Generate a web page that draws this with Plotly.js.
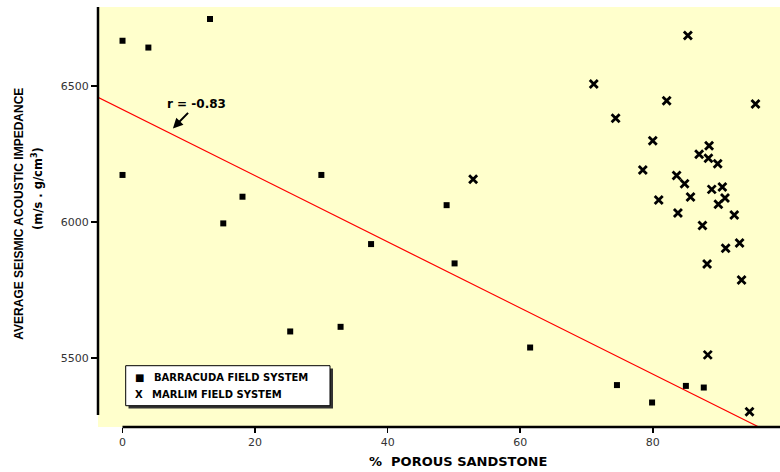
<!DOCTYPE html>
<html>
<head>
<meta charset="utf-8">
<script src="https://cdn.plot.ly/plotly-3.0.1.min.js"></script>
<style>html,body{margin:0;padding:0;background:#fff;}#chart{width:780px;height:472px;}</style>
</head>
<body>
<div id="chart"></div>
<script>
// ---- data ----
const seriesNames = ["BARRACUDA FIELD SYSTEM", "MARLIM FIELD SYSTEM"];
const barracudaX = [0, 3.9, 13.2, 0, 15.2, 18.1, 30.0, 25.3, 32.9, 37.5, 48.9, 50.1, 61.5, 74.6, 79.9, 85.0, 87.7];
const barracudaY = [6666, 6641, 6746, 6173, 5995, 6093, 6173, 5598, 5615, 5919, 6062, 5848, 5539, 5401, 5337, 5398, 5392];
const marlimX = [85.3, 71.1, 82.1, 95.5, 74.4, 80.0, 88.5, 87.0, 88.4, 89.8, 78.5, 83.6, 84.8, 88.9, 90.5, 80.9, 85.7, 90.9, 89.9, 83.8, 92.3, 87.5, 93.1, 91.0, 88.2, 93.4, 52.9, 88.3, 94.6];
const marlimY = [6685, 6507, 6446, 6434, 6381, 6299, 6280, 6249, 6234, 6214, 6191, 6171, 6141, 6120, 6129, 6081, 6092, 6088, 6065, 6033, 6026, 5987, 5923, 5904, 5846, 5787, 6157, 5512, 5303];
const fitX = [-3.7, 96.0];
const fitY = [6458, 5247];
const xTicks = [0, 20, 40, 60, 80];
const yTicks = [5500, 6000, 6500];
const rLabel = "r = -0.83";
const xTitle = "%  POROUS SANDSTONE";
const yTitle1 = "AVERAGE SEISMIC ACOUSTIC IMPEDANCE";
const yTitle2 = "(m/s . g/cm<sup>3</sup>)";

// ---- layout geometry ----
const W = 780, H = 472;
const M = {l: 98, r: 0, t: 7, b: 45};
const PW = W - M.l - M.r, PH = H - M.t - M.b;
const px = p => (p - M.l) / PW;        // pixel x -> paper
const py = p => (H - M.b - p) / PH;    // pixel y -> paper

const bold = "DejaVu Sans";

const traces = [
  {x: fitX, y: fitY, mode: "lines", line: {color: "#ff0000", width: 1.2}, showlegend: false, hoverinfo: "skip"},
  {x: barracudaX, y: barracudaY, name: seriesNames[0], mode: "markers", showlegend: false,
   marker: {symbol: "square", size: 6, color: "#000"}},
  {x: marlimX, y: marlimY, name: seriesNames[1], mode: "markers", showlegend: false,
   marker: {symbol: "x-thin-open", size: 8, color: "#000", line: {color: "#000", width: 2.8}}}
];

const layout = {
  width: W, height: H,
  margin: M,
  paper_bgcolor: "#ffffff",
  plot_bgcolor: "#ffffcc",
  showlegend: false,
  font: {family: "DejaVu Sans", color: "#000"},
  xaxis: {
    range: [-3.7, 99.2], tickvals: xTicks, ticktext: xTicks.map(String),
    ticks: "outside", ticklen: 5, tickwidth: 1.5, tickcolor: "#000",
    showgrid: false, zeroline: false, showline: false,
    tickfont: {family: "DejaVu Sans", size: 11, color: "#333"}
  },
  yaxis: {
    range: [5247, 6790], tickvals: yTicks, ticktext: yTicks.map(String),
    ticks: "outside", ticklen: 6, tickwidth: 1.5, tickcolor: "#000",
    showgrid: false, zeroline: false, showline: false,
    tickfont: {family: "DejaVu Sans", size: 11, color: "#333"}
  },
  shapes: [
    // y axis line (stops short of the bottom)
    {type: "line", xref: "paper", yref: "paper", x0: 0, x1: 0, y0: py(415), y1: 1, line: {color: "#000", width: 2.5}, layer: "above"},
    // x axis line (starts at x = 0)
    {type: "line", xref: "paper", yref: "paper", x0: px(122.5), x1: 1, y0: 0, y1: 0, line: {color: "#000", width: 2.5}, layer: "above"},
    // legend shadow and box
    {type: "rect", xref: "paper", yref: "paper", x0: px(128.5), x1: px(333), y0: py(368.5), y1: py(408.5), fillcolor: "#333", line: {width: 0}, layer: "above"},
    {type: "rect", xref: "paper", yref: "paper", x0: px(125.7), x1: px(330), y0: py(365.7), y1: py(405.7), fillcolor: "#fff", line: {color: "#000", width: 1}, layer: "above"}
  ],
  annotations: [
    {x: 7.6, y: 6344, xref: "x", yref: "y", text: "<b>" + rLabel + "</b>", showarrow: true,
     ax: 23.5, ay: -24, arrowhead: 2, arrowsize: 1, arrowwidth: 2, arrowcolor: "#000",
     font: {family: bold, size: 12, color: "#000"}},
    {x: px(458), y: py(462), xref: "paper", yref: "paper", text: "<b>" + xTitle + "</b>", showarrow: false,
     xanchor: "center", yanchor: "middle", font: {family: bold, size: 13, color: "#000"}},
    {x: px(18.7), y: py(214), xref: "paper", yref: "paper", text: "<b>" + yTitle1 + "</b>", showarrow: false,
     textangle: -90, xanchor: "center", yanchor: "middle", font: {family: "Liberation Sans", size: 12, color: "#000"}},
    {x: px(37.5), y: py(188.5), xref: "paper", yref: "paper", text: "<b>" + yTitle2 + "</b>", showarrow: false,
     textangle: -90, xanchor: "center", yanchor: "middle", font: {family: bold, size: 11.5, color: "#000"}},
    // legend entries
    {x: px(139.3), y: py(377), xref: "paper", yref: "paper", text: "■", showarrow: false,
     xanchor: "center", yanchor: "middle", font: {family: bold, size: 10, color: "#000"}},
    {x: px(152.3), y: py(377), xref: "paper", yref: "paper", text: "<b>" + seriesNames[0] + "</b>", showarrow: false,
     xanchor: "left", yanchor: "middle", font: {family: bold, size: 10, color: "#000"}},
    {x: px(139), y: py(394.3), xref: "paper", yref: "paper", text: "<b>X</b>", showarrow: false,
     xanchor: "center", yanchor: "middle", font: {family: bold, size: 10, color: "#000"}},
    {x: px(150), y: py(394.3), xref: "paper", yref: "paper", text: "<b>" + seriesNames[1] + "</b>", showarrow: false,
     xanchor: "left", yanchor: "middle", font: {family: bold, size: 10, color: "#000"}}
  ]
};

Plotly.newPlot("chart", traces, layout, {displayModeBar: false, staticPlot: true});
</script>
</body>
</html>
